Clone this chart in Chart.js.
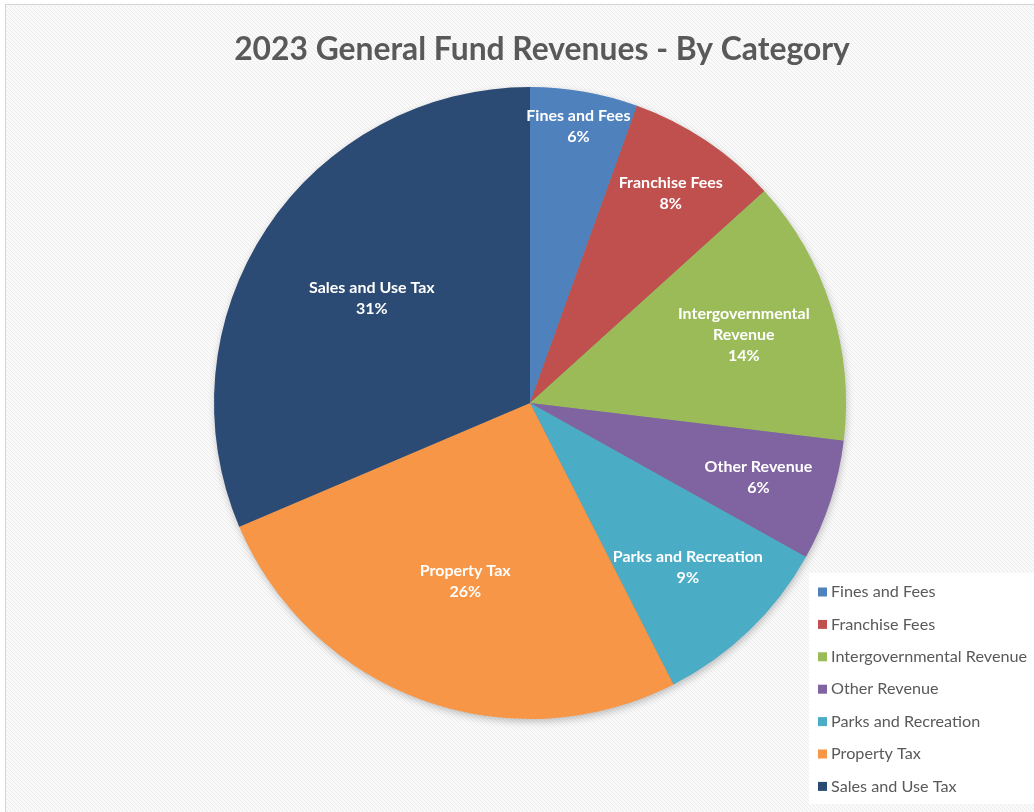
<!DOCTYPE html>
<html>
<head>
<meta charset="utf-8">
<script src="https://cdn.jsdelivr.net/npm/chart.js@4/dist/chart.umd.min.js"></script>
<style>
  body { margin: 0; background: #ffffff; }
  #wrap { width: 1034px; height: 812px; }
</style>
</head>
<body>
<div id="wrap"><canvas id="revenueChart" width="1034" height="812"></canvas></div>
<script>
  // revenue share by category, in percent of the general fund
  const categories = ['Fines and Fees', 'Franchise Fees', 'Intergovernmental Revenue', 'Other Revenue', 'Parks and Recreation', 'Property Tax', 'Sales and Use Tax'];
  const shares = [5.5, 7.8, 13.6, 6.2, 9.4, 26.1, 31.4];
  const sliceColors = ['#4F81BD', '#C0504D', '#9BBB59', '#8064A2', '#4BACC6', '#F79646', '#2C4B74'];

  // how the slice labels are split and how far out they sit (fraction of radius)
  const labelLines = [['Fines and Fees'], ['Franchise Fees'], ['Intergovernmental', 'Revenue'], ['Other Revenue'], ['Parks and Recreation'], ['Property Tax'], ['Sales and Use Tax']];
  const labelRadius = [0.89, 0.80, 0.71, 0.76, 0.72, 0.60, 0.60];

  const titleText = '2023 General Fund Revenues - By Category';
  const fontFamily = 'Lato, "Open Sans", sans-serif';

  // hatched backdrop, frame and title
  const backdrop = {
    id: 'backdrop',
    beforeDraw(chart) {
      const ctx = chart.ctx;
      const tile = document.createElement('canvas');
      tile.width = 4; tile.height = 4;
      const t = tile.getContext('2d');
      t.fillStyle = '#fafafa';
      t.fillRect(0, 0, 4, 4);
      t.strokeStyle = '#ececec';
      t.lineWidth = 1;
      t.beginPath();
      t.moveTo(0, 0); t.lineTo(4, 4);
      t.moveTo(-4, 0); t.lineTo(4, 8);
      t.moveTo(0, -4); t.lineTo(8, 4);
      t.stroke();

      ctx.save();
      ctx.fillStyle = '#ffffff';
      ctx.fillRect(0, 0, chart.width, chart.height);
      ctx.fillStyle = ctx.createPattern(tile, 'repeat');
      ctx.fillRect(5, 4, chart.width - 5, chart.height - 4);
      ctx.strokeStyle = '#d4d4d4';
      ctx.lineWidth = 1;
      ctx.strokeRect(5.5, 4.5, chart.width, chart.height);

      ctx.fillStyle = '#595959';
      ctx.font = 'bold 31.8px ' + fontFamily;
      ctx.textAlign = 'center';
      ctx.textBaseline = 'middle';
      ctx.fillText(titleText, 542, 50);
      ctx.restore();
    },
    beforeDatasetsDraw(chart) {
      // soft shadow under the pie
      const arc = chart.getDatasetMeta(0).data[0];
      const { x, y, outerRadius } = arc.getProps(['x', 'y', 'outerRadius'], true);
      const ctx = chart.ctx;
      ctx.save();
      ctx.shadowColor = 'rgba(0,0,0,0.28)';
      ctx.shadowBlur = 8;
      ctx.shadowOffsetX = 1;
      ctx.shadowOffsetY = 3;
      ctx.fillStyle = '#888888';
      ctx.beginPath();
      ctx.arc(x, y, outerRadius - 1, 0, Math.PI * 2);
      ctx.fill();
      ctx.restore();
    }
  };

  // category name and rounded percent inside each slice
  const sliceLabels = {
    id: 'sliceLabels',
    afterDatasetsDraw(chart) {
      const ctx = chart.ctx;
      const values = chart.data.datasets[0].data;
      const total = values.reduce((a, b) => a + b, 0);
      ctx.save();
      ctx.fillStyle = '#ffffff';
      ctx.font = 'bold 16px ' + fontFamily;
      ctx.textAlign = 'center';
      ctx.textBaseline = 'middle';
      chart.getDatasetMeta(0).data.forEach((arc, i) => {
        const p = arc.getProps(['x', 'y', 'startAngle', 'endAngle', 'outerRadius'], true);
        const mid = (p.startAngle + p.endAngle) / 2;
        const r = p.outerRadius * labelRadius[i];
        const cx = p.x + Math.cos(mid) * r;
        const cy = p.y + Math.sin(mid) * r;
        const lines = labelLines[i].concat([Math.round(values[i] / total * 100) + '%']);
        const lineH = 21;
        lines.forEach((line, k) => {
          ctx.fillText(line, cx, cy + (k - (lines.length - 1) / 2) * lineH);
        });
      });
      ctx.restore();
    }
  };

  // boxed legend in the lower right corner
  const cornerLegend = {
    id: 'cornerLegend',
    afterDraw(chart) {
      const ctx = chart.ctx;
      const colors = chart.data.datasets[0].backgroundColor;
      ctx.save();
      ctx.fillStyle = '#ffffff';
      ctx.fillRect(809, 573, 225, 231);
      ctx.font = '16.2px ' + fontFamily;
      ctx.textAlign = 'left';
      ctx.textBaseline = 'middle';
      chart.data.labels.forEach((label, i) => {
        const y = 592 + i * 32.4;
        ctx.fillStyle = colors[i];
        ctx.fillRect(818, y - 4.5, 9, 9);
        ctx.fillStyle = '#595959';
        ctx.fillText(label, 831, y);
      });
      ctx.restore();
    }
  };

  const ctx = document.getElementById('revenueChart').getContext('2d');
  new Chart(ctx, {
    type: 'pie',
    data: {
      labels: categories,
      datasets: [{
        data: shares,
        backgroundColor: sliceColors,
        borderWidth: 0,
        hoverOffset: 0
      }]
    },
    options: {
      responsive: false,
      animation: false,
      events: [],
      layout: { padding: { left: 214, right: 188, top: 87, bottom: 93 } },
      plugins: {
        legend: { display: false },
        title: { display: false },
        tooltip: { enabled: false }
      }
    },
    plugins: [backdrop, sliceLabels, cornerLegend]
  });
</script>
</body>
</html>
